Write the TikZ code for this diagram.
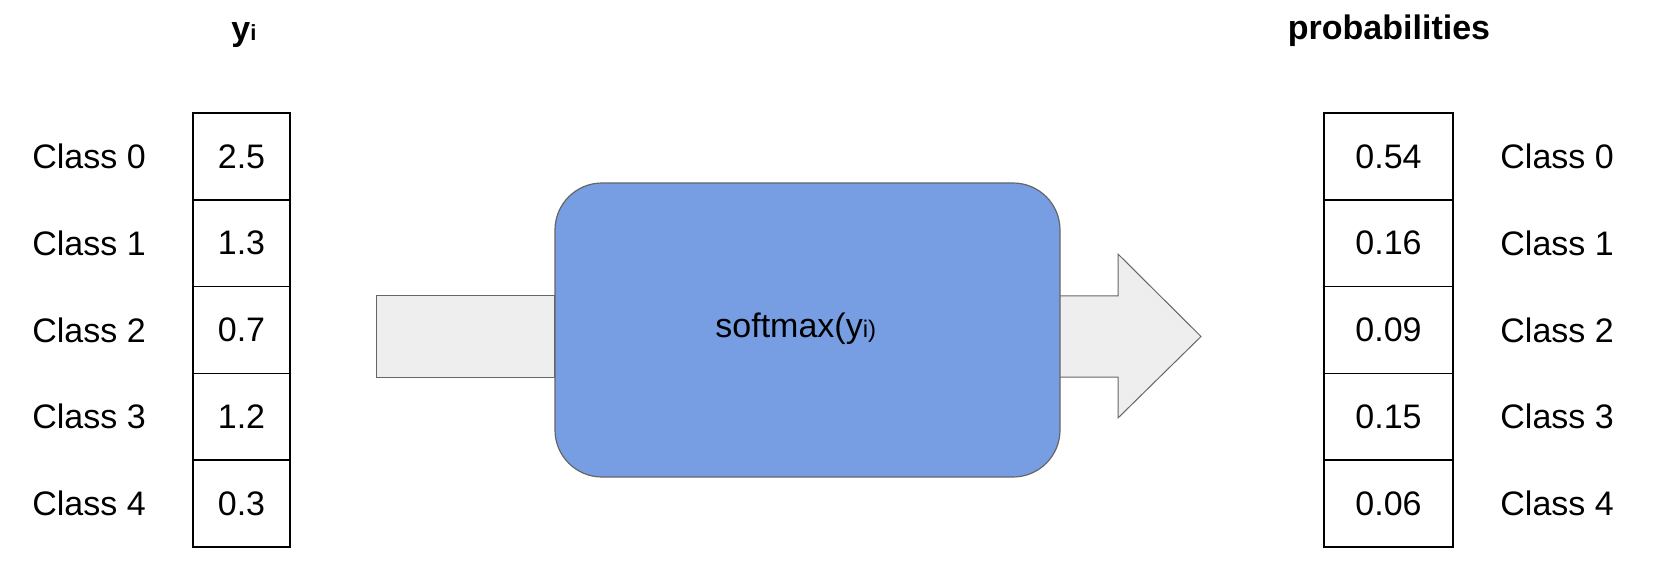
\documentclass[tikz,border=0pt]{standalone}
\usepackage{fontspec}
\setmainfont{Liberation Sans}
\usetikzlibrary{backgrounds}
\definecolor{procblue}{HTML}{779EE3}
\definecolor{arrowgrey}{HTML}{EEEEEE}
\definecolor{edgegrey}{HTML}{666666}
\begin{document}
\begin{tikzpicture}[x=0.5pt,y=-0.5pt,
  cell/.style={draw=black, line width=0.8pt, minimum height=43.4pt, inner sep=0pt, font=\fontsize{17}{20}\selectfont},
  lcell/.style={cell, minimum width=48.5pt},
  rcell/.style={cell, minimum width=64.5pt},
  lab/.style={anchor=west, inner sep=0pt, font=\fontsize{17}{20}\selectfont},
  ttl/.style={anchor=base, inner sep=0pt, font=\fontsize{17}{20}\selectfont\bfseries},
  arrowbody/.style={fill=arrowgrey, draw=edgegrey, line width=0.5pt},
  proc/.style={fill=procblue, draw=edgegrey, line width=0.6pt, rounded corners=23.5pt, minimum width=252.5pt, minimum height=147pt, inner sep=0pt},
  proctext/.style={anchor=base west, inner sep=0pt, font=\fontsize{17}{20}\selectfont}]
\useasboundingbox (0,0) rectangle (1665,561);
% titles
\node[ttl] (ty) at (244,41) {y{\fontsize{11}{12}\selectfont i}};
\node[ttl] (tp) at (1389,40) {probabilities};
% left column
\foreach \v [count=\i from 0] in {2.5,1.3,0.7,1.2,0.3} {
  \node[lcell] (l\i) at (241.5,{156.4+86.8*\i}) {\v};
  \node[lab] (cl\i) at (32,{156.4+86.8*\i}) {Class \i};
}
% right column
\foreach \v [count=\i from 0] in {0.54,0.16,0.09,0.15,0.06} {
  \node[rcell] (r\i) at (1388.5,{156.4+86.8*\i}) {\v};
  \node[lab] (cr\i) at (1500,{156.4+86.8*\i}) {Class \i};
}
% softmax box
\node[proc] (sm) at (807.5,330) {};
\node[proctext] (smt) at (715,337) {softmax(y{\fontsize{12}{13}\selectfont i)}};
% arrows behind the box
\begin{scope}[on background layer]
  \draw[arrowbody] (376,296) rectangle (sm.west |- 0,377);
  \draw[arrowbody] (1000,296) -- (1118,296) -- (1118,254) -- (1201,336.5)
     -- (1118,418) -- (1118,377) -- (1000,377) -- cycle;
\end{scope}
\end{tikzpicture}
\end{document}
